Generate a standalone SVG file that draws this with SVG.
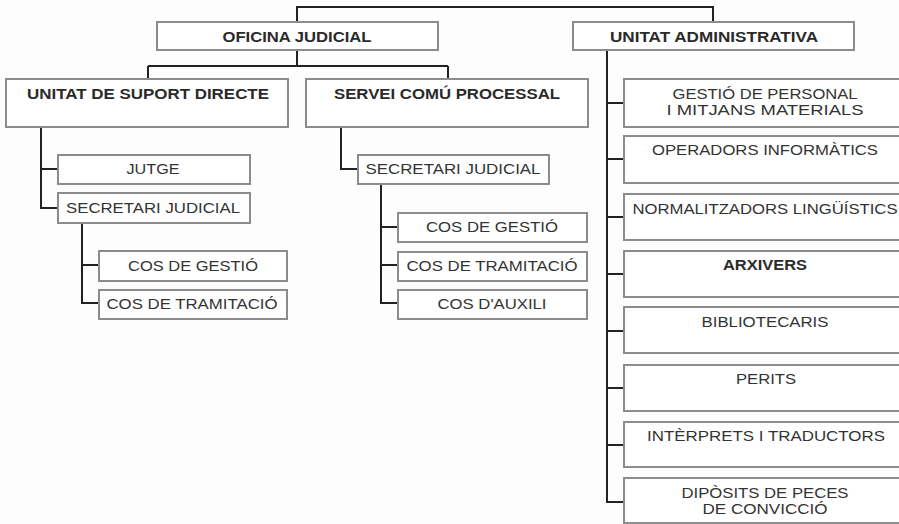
<svg xmlns="http://www.w3.org/2000/svg" width="899" height="524" viewBox="0 0 899 524">
<style>
.bx{fill:#fff;stroke:#8c8c8c;stroke-width:2}
.t{font-family:"Liberation Sans",Arial,sans-serif;font-size:15px;fill:#333;text-anchor:middle}
.b{font-weight:bold;font-size:14.5px;fill:#2a2a2a}
.c{fill:none;stroke:#222;stroke-width:2}
</style>
<rect width="899" height="524" fill="#fdfdfd"/>
<g id="connectors" class="c">
<path d="M297,22V7H713V22"/>
<path d="M297,50V66M148,66H448M148,66V79M448,66V79"/>
<path d="M41,127V208H58M41,169H58"/>
<path d="M82,223V303H99M82,265H99"/>
<path d="M341,127V169H358"/>
<path d="M381,184V303H398M381,227H398M381,265H398"/>
<path d="M607,50V502H624M607,103H624M607,159H624M607,217H624M607,274H624M607,331H624M607,388H624M607,445H624"/>
</g>
<g id="oficina"><rect class="bx" x="157" y="22" width="281" height="28"/><text class="t b" x="297" y="42" textLength="149" lengthAdjust="spacingAndGlyphs">OFICINA JUDICIAL</text></g>
<g id="unitat-admin"><rect class="bx" x="573" y="22" width="281" height="28"/><text class="t b" x="714" y="42" textLength="208" lengthAdjust="spacingAndGlyphs">UNITAT ADMINISTRATIVA</text></g>
<g id="suport"><rect class="bx" x="6" y="79" width="282" height="48"/><text class="t b" x="148" y="99" textLength="242" lengthAdjust="spacingAndGlyphs">UNITAT DE SUPORT DIRECTE</text></g>
<g id="servei"><rect class="bx" x="306" y="79" width="282" height="48"/><text class="t b" x="447" y="99" textLength="226" lengthAdjust="spacingAndGlyphs">SERVEI COMÚ PROCESSAL</text></g>
<g id="jutge"><rect class="bx" x="58" y="155" width="192" height="29"/><text class="t" x="153" y="174" textLength="53" lengthAdjust="spacingAndGlyphs">JUTGE</text></g>
<g id="secretari1"><rect class="bx" x="58" y="193" width="192" height="30"/><text class="t" x="153" y="213" textLength="174" lengthAdjust="spacingAndGlyphs">SECRETARI JUDICIAL</text></g>
<g id="gestio1"><rect class="bx" x="99" y="251" width="188" height="30"/><text class="t" x="193" y="271" textLength="130" lengthAdjust="spacingAndGlyphs">COS DE GESTIÓ</text></g>
<g id="tramitacio1"><rect class="bx" x="99" y="290" width="188" height="29"/><text class="t" x="192" y="309" textLength="171" lengthAdjust="spacingAndGlyphs">COS DE TRAMITACIÓ</text></g>
<g id="secretari2"><rect class="bx" x="358" y="155" width="191" height="29"/><text class="t" x="453" y="174" textLength="175" lengthAdjust="spacingAndGlyphs">SECRETARI JUDICIAL</text></g>
<g id="gestio2"><rect class="bx" x="398" y="213" width="189" height="29"/><text class="t" x="492" y="232" textLength="132" lengthAdjust="spacingAndGlyphs">COS DE GESTIÓ</text></g>
<g id="tramitacio2"><rect class="bx" x="398" y="252" width="189" height="29"/><text class="t" x="492" y="271" textLength="171" lengthAdjust="spacingAndGlyphs">COS DE TRAMITACIÓ</text></g>
<g id="auxili"><rect class="bx" x="398" y="290" width="189" height="29"/><text class="t" x="492" y="309" textLength="109" lengthAdjust="spacingAndGlyphs">COS D'AUXILI</text></g>
<g id="personal"><rect class="bx" x="624" y="79" width="284" height="48"/><text class="t" x="765" y="99" textLength="185" lengthAdjust="spacingAndGlyphs">GESTIÓ DE PERSONAL</text><text class="t" x="765" y="115" textLength="197" lengthAdjust="spacingAndGlyphs">I MITJANS MATERIALS</text></g>
<g id="operadors"><rect class="bx" x="624" y="136" width="284" height="47"/><text class="t" x="765" y="155" textLength="226" lengthAdjust="spacingAndGlyphs">OPERADORS INFORMÀTICS</text></g>
<g id="normalitzadors"><rect class="bx" x="624" y="194" width="284" height="46"/><text class="t" x="765" y="214" textLength="265" lengthAdjust="spacingAndGlyphs">NORMALITZADORS LINGÜÍSTICS</text></g>
<g id="arxivers"><rect class="bx" x="624" y="251" width="284" height="46"/><text class="t b" x="765" y="270" textLength="84" lengthAdjust="spacingAndGlyphs">ARXIVERS</text></g>
<g id="bibliotecaris"><rect class="bx" x="624" y="307" width="284" height="46"/><text class="t" x="765" y="327" textLength="127" lengthAdjust="spacingAndGlyphs">BIBLIOTECARIS</text></g>
<g id="perits"><rect class="bx" x="624" y="365" width="284" height="46"/><text class="t" x="766" y="384" textLength="60" lengthAdjust="spacingAndGlyphs">PERITS</text></g>
<g id="interprets"><rect class="bx" x="624" y="422" width="284" height="45"/><text class="t" x="766" y="441" textLength="238" lengthAdjust="spacingAndGlyphs">INTÈRPRETS I TRADUCTORS</text></g>
<g id="diposits"><rect class="bx" x="624" y="478" width="284" height="45"/><text class="t" x="765" y="498" textLength="167" lengthAdjust="spacingAndGlyphs">DIPÒSITS DE PECES</text><text class="t" x="765" y="514" textLength="125" lengthAdjust="spacingAndGlyphs">DE CONVICCIÓ</text></g>
</svg>
